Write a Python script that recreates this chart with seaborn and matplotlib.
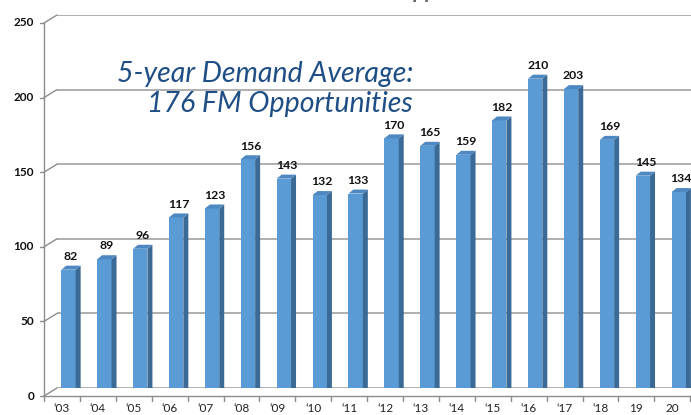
import matplotlib
matplotlib.use("Agg")
import matplotlib.pyplot as plt
import matplotlib.transforms as mtransforms
from matplotlib.patches import Polygon
import seaborn as sns
import pandas as pd

years = ["‘03", "‘04", "‘05", "‘06", "‘07", "‘08", "‘09", "‘10", "‘11",
         "‘12", "‘13", "‘14", "‘15", "‘16", "‘17", "‘18", "19", "20"]
opportunities = [82, 89, 96, 117, 123, 156, 143, 132, 133,
                 170, 165, 159, 182, 210, 203, 169, 145, 134]
y_ticks = [0, 50, 100, 150, 200, 250]
note = "5-year Demand Average:\n176 FM Opportunities"
title = "Annual Demand for FM Opportunities"

df = pd.DataFrame({"year": years, "value": opportunities})

sns.set_style("white")
plt.rcParams["font.family"] = ["Lato", "DejaVu Sans"]

fig = plt.figure(figsize=(6.91, 4.15), dpi=100)
# back wall of the pseudo-3D chart
ax = fig.add_axes([57 / 691, 27 / 415, 634 / 691, 373 / 415])

front_c = "#5b9bd5"
side_c = "#3b6a96"
top_c = "#4d88c2"

sns.barplot(data=df, x="year", y="value", color=front_c, width=0.4,
            saturation=1, ax=ax, zorder=3)

ax.set_xlim(-0.5, -0.5 + 634 / 35.9)
ax.set_ylim(0, 250)
ax.set_yticks(y_ticks)
ax.set_yticklabels([])
ax.set_xticks([])
ax.set_xlabel("")
ax.set_ylabel("")
ax.tick_params(length=0)
for s in ax.spines.values():
    s.set_visible(False)
ax.yaxis.grid(True, color="#a8a8a8", linewidth=1.3, zorder=0)
ax.set_axisbelow(True)

px = fig.dpi_scale_trans
mid = mtransforms.ScaledTranslation(-6.5 / 100, -4 / 100, px)
front = mtransforms.ScaledTranslation(-13 / 100, -8 / 100, px)

# depth of bar in data units
dx = 5 / 35.9
dy = 4 / 1.492

for bar, v in zip(ax.patches, opportunities):
    x0 = bar.get_x()
    w = bar.get_width()
    bar.set_transform(ax.transData + mid)
    bar.set_edgecolor("none")
    side = Polygon([(x0 + w, 0), (x0 + w + dx, dy), (x0 + w + dx, v + dy), (x0 + w, v)],
                   closed=True, facecolor=side_c, edgecolor="none",
                   transform=ax.transData + mid, zorder=3)
    top = Polygon([(x0, v), (x0 + w, v), (x0 + w + dx, v + dy), (x0 + dx, v + dy)],
                  closed=True, facecolor=top_c, edgecolor="none",
                  transform=ax.transData + mid, zorder=3)
    ax.add_patch(side)
    ax.add_patch(top)
    ax.text(x0 + w / 2 + dx / 2, v + dy + 2.5, str(v), ha="center", va="bottom",
            fontsize=8.8, fontweight="bold", color="#111111",
            transform=ax.transData + mid, zorder=4)

# front y axis, ticks, labels and the diagonals to the back wall
yt = ax.get_yaxis_transform()
fx = -13 / 634
ax.plot([0, 0], [0, 250], color="#8c8c8c", lw=1, transform=yt + front, clip_on=False)
for t in y_ticks:
    ax.plot([fx, 0], [t - 8 / 1.492, t], color="#8c8c8c", lw=1, transform=yt, clip_on=False)
    ax.plot([-4 / 634, 0], [t, t], color="#8c8c8c", lw=1, transform=yt + front, clip_on=False)
    ax.text(-10 / 634, t, str(t), ha="right", va="center", fontsize=8.5,
            fontweight="bold", color="#111111", transform=yt + front)

# front floor line with category ticks and labels
xt = ax.get_xaxis_transform()
ax.plot([-0.5, 20], [0, 0], color="#8c8c8c", lw=1, transform=xt + front, clip_on=False)
for i in range(len(years) + 1):
    ax.plot([i - 0.5, i - 0.5], [0, -5 / 373], color="#8c8c8c", lw=1,
            transform=xt + front, clip_on=False)
for i, lab in enumerate(years):
    ax.text(i, -6.5 / 373, lab, ha="center", va="top", fontsize=8.5,
            color="#222222", transform=xt + front)

ax.text(0.598, 1 - 89 / 415, note, ha="right", va="center", fontsize=20.5, style="italic",
        color="#1f4e85", linespacing=1.17, transform=fig.transFigure, zorder=5)

fig.text(0.505, 0.994, title, ha="center", va="bottom", fontsize=15,
         fontweight="bold", color="#666666")

fig.savefig("out.png", dpi=100)
